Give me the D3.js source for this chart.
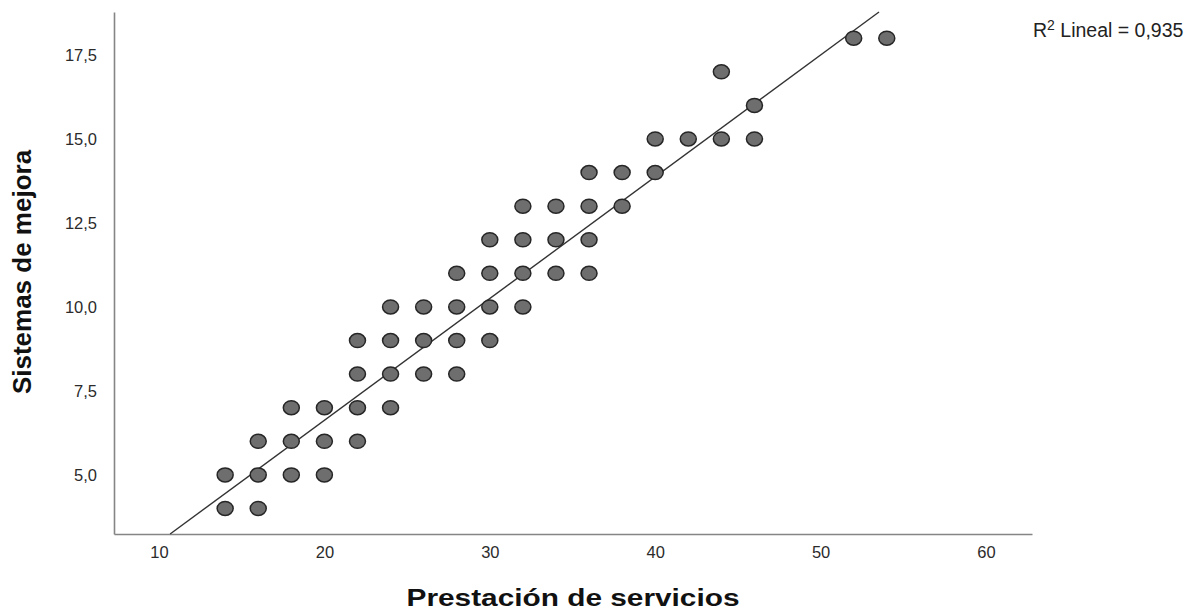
<!DOCTYPE html>
<html>
<head>
<meta charset="utf-8">
<script src="https://cdn.jsdelivr.net/npm/d3@7"></script>
<style>
  body { margin: 0; background: #fff; }
  svg { display: block; font-family: Arial, "Liberation Sans", sans-serif; }
</style>
</head>
<body>
<svg id="chart"></svg>
<script>
// data (x = Prestación de servicios, y = Sistemas de mejora)
const prestacion = [52, 54, 44, 46, 40, 42, 44, 46, 36, 38, 40, 32, 34, 36, 38,
  30, 32, 34, 36, 28, 30, 32, 34, 36, 24, 26, 28, 30, 32, 22, 24, 26, 28, 30,
  22, 24, 26, 28, 18, 20, 22, 24, 16, 18, 20, 22, 14, 16, 18, 20, 14, 16];
const sistemas = [18, 18, 17, 16, 15, 15, 15, 15, 14, 14, 14, 13, 13, 13, 13,
  12, 12, 12, 12, 11, 11, 11, 11, 11, 10, 10, 10, 10, 10, 9, 9, 9, 9, 9,
  8, 8, 8, 8, 7, 7, 7, 7, 6, 6, 6, 6, 5, 5, 5, 5, 4, 4];

const xTicks = [10, 20, 30, 40, 50, 60];
const yTicks = [5, 7.5, 10, 12.5, 15, 17.5];

// fit line
const slope = 0.3626;
const intercept = -0.63;
const r2Label = '0,935';

const width = 1203, height = 613;

const svg = d3.select('#chart')
  .attr('width', width)
  .attr('height', height);

const x = d3.scaleLinear().domain([7.28, 62.78]).range([114, 1032]);
const y = d3.scaleLinear().domain([3.24, 18.78]).range([534, 12]);

const locale = d3.formatLocale({ decimal: ',', thousands: '.', grouping: [3], currency: ['', ''] });

// X axis
const gx = svg.append('g')
  .attr('transform', `translate(0,${y.range()[0]})`)
  .call(d3.axisBottom(x)
    .tickValues(xTicks)
    .tickFormat(locale.format('d'))
    .tickSize(0)
    .tickPadding(12));

// Y axis
const gy = svg.append('g')
  .attr('transform', `translate(${x.range()[0]},0)`)
  .call(d3.axisLeft(y)
    .tickValues(yTicks)
    .tickFormat(locale.format('.1f'))
    .tickSize(0)
    .tickPadding(17));

[gx, gy].forEach(g => {
  g.select('.domain').attr('stroke', '#858585').attr('stroke-width', 1.6);
  g.selectAll('text')
    .attr('fill', '#2b2b2b')
    .style('font-family', 'Arial, "Liberation Sans", sans-serif')
    .style('font-size', '16.5px');
});

// regression line clipped to plot area
const [yLo, yHi] = y.domain();
const lineData = [
  { px: (yLo - intercept) / slope, py: yLo },
  { px: (yHi - intercept) / slope, py: yHi }
];
svg.append('path')
  .datum(lineData)
  .attr('fill', 'none')
  .attr('stroke', '#333')
  .attr('stroke-width', 1.4)
  .attr('d', d3.line().x(d => x(d.px)).y(d => y(d.py)));

// points
svg.selectAll('.dot')
  .data(prestacion.map((p, i) => ({ p, s: sistemas[i] })))
  .enter()
  .append('ellipse')
  .attr('class', 'dot')
  .attr('cx', d => x(d.p))
  .attr('cy', d => y(d.s))
  .attr('rx', 8)
  .attr('ry', 7)
  .attr('fill', '#6e6e6e')
  .attr('stroke', '#262626')
  .attr('stroke-width', 1.5);

// R2 label
const r2 = svg.append('text')
  .attr('x', 1033)
  .attr('y', 37)
  .attr('fill', '#222')
  .style('font-size', '19.5px');
r2.append('tspan').text('R');
r2.append('tspan').attr('dy', -7).style('font-size', '14px').text('2');
r2.append('tspan').attr('dy', 7).text(' Lineal = ' + r2Label);

// axis titles
svg.append('text')
  .attr('x', 573)
  .attr('y', 606)
  .attr('text-anchor', 'middle')
  .attr('textLength', 333)
  .attr('lengthAdjust', 'spacingAndGlyphs')
  .style('font-size', '23px')
  .style('font-weight', 'bold')
  .attr('fill', '#111')
  .text('Prestación de servicios');

svg.append('text')
  .attr('transform', 'translate(31,272) rotate(-90)')
  .attr('text-anchor', 'middle')
  .style('font-size', '26px')
  .style('font-weight', 'bold')
  .attr('fill', '#111')
  .text('Sistemas de mejora');
</script>
</body>
</html>
